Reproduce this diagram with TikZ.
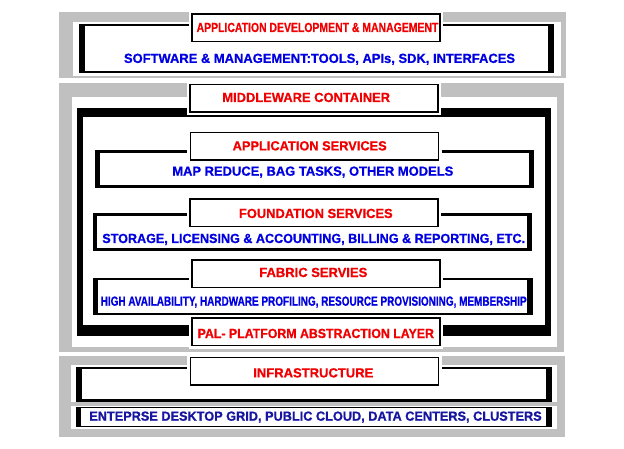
\documentclass[tikz,border=0pt]{standalone}
\usepackage{fontspec}
\setmainfont{Liberation Sans}[BoldFeatures={FakeBold=0.8}]
\usepackage{graphicx}
\definecolor{panelgray}{RGB}{192,192,192}
\definecolor{tred}{RGB}{240,0,0}
\definecolor{tblue}{RGB}{0,0,225}
\definecolor{tnavy}{RGB}{22,22,160}
\newcommand\fitw[2]{\resizebox{#1pt}{\height}{#2}}
\tikzset{
  lab/.style={anchor=base, inner sep=0pt, font=\fontsize{13.2}{14}\selectfont\bfseries},
  redt/.style={lab, text=tred},
  bluet/.style={lab, text=tblue},
  navyt/.style={lab, text=tnavy},
  tbox/.style={draw=black, line width=1.5pt, fill=white, inner sep=0pt,
    minimum width=248pt, minimum height=27.5pt,
    preaction={draw=white, line width=6.5pt}},
}
\begin{document}
\begin{tikzpicture}[x=1pt,y=-1pt]
\useasboundingbox (0,0) rectangle (624,449);
% panels
\fill[panelgray] (59.3,12.3) rectangle (565.7,77.7);
\fill[white] (73.3,21.7) rectangle (560.7,75.7);
\fill[panelgray] (59.3,83.3) rectangle (564,351.7);
\fill[white] (71.7,96.7) rectangle (556.7,346.7);
\fill[panelgray] (59.3,356) rectangle (565,437.3);
\fill[white] (70.7,365) rectangle (556.7,401.7);
\fill[white] (70.7,406) rectangle (556.7,428.5);
% frames
\fill[black] (79.3,24) rectangle (554,73);
\fill[white] (85,26.3) rectangle (548.3,70.7);
\fill[black] (77.3,108.5) rectangle (550.7,335.7);
\fill[white] (82.7,117) rectangle (545,325);
\fill[black] (95,150) rectangle (534,187.7);
\fill[white] (100,152.7) rectangle (529.3,185);
\fill[black] (92.7,213) rectangle (531.7,250.7);
\fill[white] (97.3,216) rectangle (526.7,248);
\fill[black] (93.3,277.7) rectangle (532.7,315);
\fill[white] (98.3,280) rectangle (526.7,312.7);
\fill[black] (76,366.7) rectangle (551.7,401.5);
\fill[white] (81.7,368.7) rectangle (546,399.3);
\fill[black] (76,406.7) rectangle (551.7,427.3);
\fill[white] (80.7,408) rectangle (546,426);
% title boxes
\node[tbox] (t1) at (316,27.75) {};
\node[tbox] (t2) at (314.2,98.3) {};
\node[tbox] (t3) at (314.7,146.2) {};
\node[tbox] (t4) at (314.2,213) {};
\node[tbox] (t5) at (315.8,273.7) {};
\node[tbox] (t6) at (315.8,331.8) {};
\node[tbox] (t7) at (314.7,371.2) {};
% texts
\node[redt] (x1) at (317.5,32) {\fitw{241.7}{APPLICATION DEVELOPMENT \& MANAGEMENT}};
\node[bluet] (x2) at (319.5,62.9) {\fitw{391}{SOFTWARE \& MANAGEMENT:TOOLS, APIs, SDK, INTERFACES}};
\node[redt] (x3) at (306.2,102) {\fitw{167.7}{MIDDLEWARE CONTAINER}};
\node[redt] (x4) at (309.7,150.4) {\fitw{154}{APPLICATION SERVICES}};
\node[bluet] (x5) at (312.8,175.7) {\fitw{281}{MAP REDUCE, BAG TASKS, OTHER MODELS}};
\node[redt] (x6) at (315.8,218) {\fitw{153.7}{FOUNDATION SERVICES}};
\node[bluet] (x7) at (313.7,243) {\fitw{422.7}{STORAGE, LICENSING \& ACCOUNTING, BILLING \& REPORTING, ETC.}};
\node[redt] (x8) at (313.3,277) {\fitw{108}{FABRIC SERVIES}};
\node[bluet] (x9) at (313.7,305.7) {\fitw{426}{HIGH AVAILABILITY, HARDWARE PROFILING, RESOURCE PROVISIONING, MEMBERSHIP}};
\node[redt] (x10) at (315.8,338) {\fitw{236.3}{PAL- PLATFORM ABSTRACTION LAYER}};
\node[redt] (x11) at (313.3,377.4) {\fitw{120}{INFRASTRUCTURE}};
\node[navyt] (x12) at (315.5,420.7) {\fitw{452.4}{ENTEPRSE DESKTOP GRID, PUBLIC CLOUD, DATA CENTERS, CLUSTERS}};
\end{tikzpicture}
\end{document}
